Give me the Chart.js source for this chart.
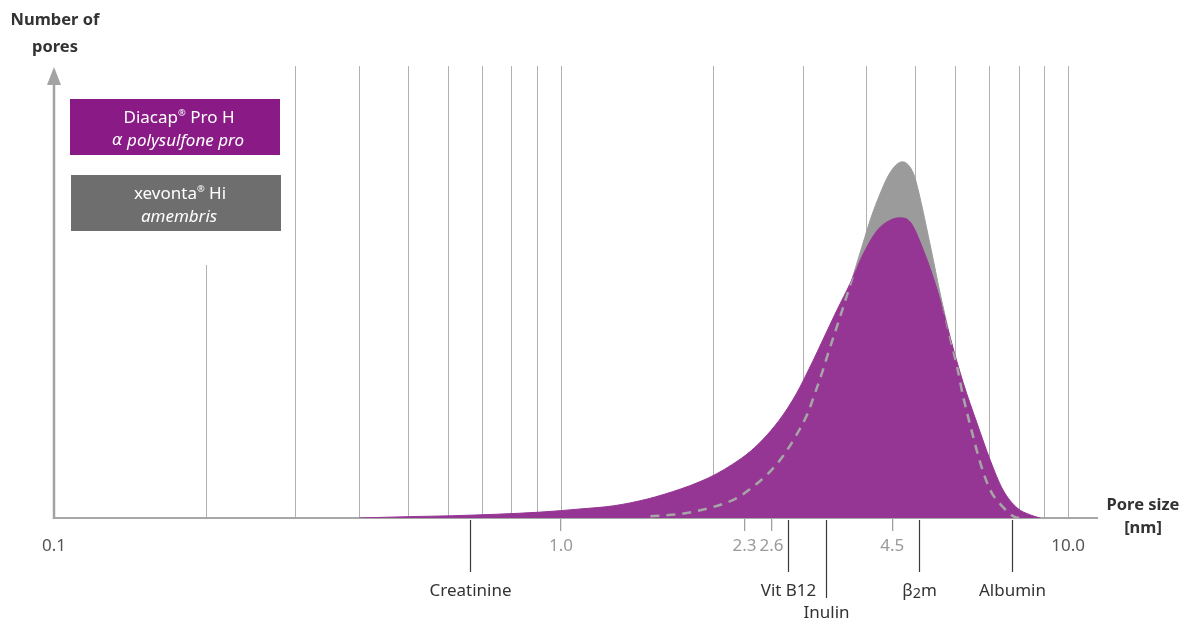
<!DOCTYPE html>
<html>
<head>
<meta charset="utf-8">
<script src="https://cdn.jsdelivr.net/npm/chart.js@4.4.0/dist/chart.umd.min.js"></script>
<style>
  html, body { margin: 0; padding: 0; background: #fff; }
  #wrap { width: 1194px; height: 622px; }
</style>
</head>
<body>
<div id="wrap"><canvas id="poreChart"></canvas></div>
<script>
// pore size [nm] and relative number of pores
const diacapSize = [0.40, 0.50, 0.61, 0.91, 1.09, 1.27, 1.48, 1.72, 1.88, 2.02, 2.18, 2.36, 2.55, 2.74, 2.87, 2.96, 3.04, 3.14, 3.27, 3.50, 3.72, 3.94, 4.20, 4.46, 4.66, 4.88, 5.18, 5.52, 5.85, 6.21, 6.61, 7.02, 7.44, 7.94, 8.41, 8.81];
const diacapCount = [0, 0.3, 0.5, 1.3, 2.0, 2.7, 4.2, 6.4, 8.05, 9.7, 11.9, 14.7, 18.4, 22.8, 26.3, 29.0, 31.6, 34.8, 39.0, 46.0, 52.0, 58.3, 63.6, 65.9, 66.4, 65.5, 59.3, 50.4, 40.0, 29.9, 21.0, 12.8, 6.2, 2.2, 0.7, 0];

const xevontaSize = [1.50, 1.72, 1.99, 2.22, 2.39, 2.58, 2.74, 2.92, 3.06, 3.17, 3.29, 3.36, 3.55, 3.68, 3.94, 4.07, 4.20, 4.46, 4.71, 4.95, 5.06, 5.37, 5.59, 5.85, 6.04, 6.21, 6.47, 6.71, 7.02, 7.44, 7.86, 8.12];
const xevontaCount = [0.4, 0.9, 2.4, 4.4, 6.9, 10.2, 13.7, 18.6, 23.0, 27.7, 33.0, 36.3, 44.5, 50.0, 60.8, 65.9, 70.1, 76.5, 78.8, 76.3, 72.6, 59.3, 49.8, 40.0, 33.4, 26.8, 18.8, 12.2, 6.2, 2.4, 0.2, 0];

const gridTicks = [0.2, 0.3, 0.4, 0.5, 0.6, 0.7, 0.8, 0.9, 1, 2, 3, 4, 5, 6, 7, 8, 9, 10];
const labelTicks = [0.1, 1, 2.3, 2.6, 4.5, 10];
const labelTickText = ['0.1', '1.0', '2.3', '2.6', '4.5', '10.0'];

const markerNames = ['Creatinine', 'Vit B12', 'Inulin', 'β2m', 'Albumin'];
const markerSizes = [0.66, 2.8, 3.33, 5.08, 7.75];

const seriesNames = ['Diacap® Pro H', 'xevonta® Hi'];
const seriesSubtitles = ['α polysulfone pro', 'amembris'];

const FONT = '"Noto Sans", sans-serif';
const GREEK_FONT = '"DejaVu Sans", sans-serif';
const PURPLE = '#963694';
const GREY = '#9b9b9b';

function toPoints(xs, ys) {
    return xs.map((x, i) => ({ x: x, y: ys[i] }));
}

// text with a small raised ®, a lowered 2 in β2m and a clearer alpha
function drawRich(ctx, text, cx, cy, size, style, color) {
    const parts = [];
    for (let i = 0; i < text.length; i++) {
        const ch = text[i];
        if (ch === '®') {
            parts.push({ t: ch, s: size * 0.55, dy: -size * 0.3, f: FONT });
        } else if (ch === '2' && text[i - 1] === 'β') {
            parts.push({ t: ch, s: size * 0.85, dy: size * 0.18, f: FONT });
        } else if (ch === 'α') {
            parts.push({ t: ch, s: size * 0.95, dy: 0, f: GREEK_FONT });
        } else {
            const last = parts[parts.length - 1];
            if (last && last.s === size && last.dy === 0 && last.f === FONT) last.t += ch;
            else parts.push({ t: ch, s: size, dy: 0, f: FONT });
        }
    }
    let total = 0;
    parts.forEach(p => {
        ctx.font = `${style} ${p.s}px ${p.f}`;
        p.w = ctx.measureText(p.t).width;
        total += p.w;
    });
    let x = cx - total / 2;
    ctx.fillStyle = color;
    ctx.textAlign = 'left';
    ctx.textBaseline = 'middle';
    parts.forEach(p => {
        ctx.font = `${style} ${p.s}px ${p.f}`;
        ctx.fillText(p.t, x, cy + p.dy);
        x += p.w;
    });
}

const legendBox = { dx: 16, top: 99, w: 210, h: 56, gap: 20 };
const legendColors = ['#8a1b86', '#6e6e6e'];

const decorPlugin = {
    id: 'poreDecor',
    beforeDatasetsDraw(chart) {
        // the legend sits on a white patch that hides the upper grid lines
        const { ctx, chartArea: a } = chart;
        const x0 = a.left + legendBox.dx;
        const bottom = legendBox.top + 2 * legendBox.h + legendBox.gap + 34;
        ctx.save();
        ctx.fillStyle = '#fff';
        ctx.fillRect(a.left + 3, a.top, x0 + legendBox.w + 10 - (a.left + 3), bottom - a.top);
        ctx.restore();
    },
    beforeDatasetDraw(chart, args) {
        // dashed xevonta outline only shows where it runs inside the purple area
        if (args.index !== 2) return;
        const { ctx, chartArea: a } = chart;
        const meta = chart.getDatasetMeta(1);
        const pts = meta.data;
        ctx.save();
        ctx.beginPath();
        meta.dataset.path(ctx);
        ctx.lineTo(pts[pts.length - 1].x, a.bottom);
        ctx.lineTo(pts[0].x, a.bottom);
        ctx.closePath();
        ctx.clip();
    },
    afterDatasetDraw(chart, args) {
        if (args.index === 2) chart.ctx.restore();
    },
    afterDraw(chart) {
        const { ctx, chartArea: a, scales } = chart;
        const xs = scales.x;
        const xl = scales.xl;
        ctx.save();

        // y axis with arrow
        ctx.strokeStyle = '#a3a3a3';
        ctx.fillStyle = '#a3a3a3';
        ctx.lineWidth = 2.5;
        ctx.beginPath();
        ctx.moveTo(a.left, a.bottom + 1);
        ctx.lineTo(a.left, a.top + 18);
        ctx.stroke();
        ctx.beginPath();
        ctx.moveTo(a.left, a.top + 1);
        ctx.lineTo(a.left - 7, a.top + 19);
        ctx.lineTo(a.left + 7, a.top + 19);
        ctx.closePath();
        ctx.fill();

        // axis titles
        drawRich(ctx, 'Number of', a.left + 1, 20, 16.5, 'bold', '#333');
        drawRich(ctx, 'pores', a.left + 1, 47, 16.5, 'bold', '#333');
        drawRich(ctx, 'Pore size', a.right + 46, a.bottom - 13, 16.5, 'bold', '#333');
        drawRich(ctx, '[nm]', a.right + 46, a.bottom + 10, 16.5, 'bold', '#333');

        // legend boxes
        seriesNames.forEach((name, i) => {
            const x = a.left + legendBox.dx + i;
            const y = legendBox.top + i * (legendBox.h + legendBox.gap);
            ctx.fillStyle = legendColors[i];
            ctx.fillRect(x, y, legendBox.w, legendBox.h);
            drawRich(ctx, name, x + 109, y + 19, 17, 'normal', '#fff');
            drawRich(ctx, seriesSubtitles[i], x + 108, y + 42, 17, 'italic', '#fff');
        });

        // substance markers below the axis
        ctx.font = `17px ${FONT}`;
        const labelBoxes = labelTickText.map((t, i) => {
            const w = ctx.measureText(t).width;
            const x = xl.getPixelForTick(i);
            return [x - w / 2 - 3, x + w / 2 + 3];
        });
        markerNames.forEach((name, i) => {
            const x = Math.round(xs.getPixelForValue(markerSizes[i])) + 0.5;
            const low = name === 'Inulin';
            const y0 = a.bottom + 2;
            const y1 = a.bottom + (low ? 80 : 54);
            const hit = labelBoxes.some(([l, r]) => x > l && x < r);
            ctx.strokeStyle = '#3a3a3a';
            ctx.lineWidth = 1.2;
            ctx.beginPath();
            if (hit) {
                ctx.moveTo(x, y0);
                ctx.lineTo(x, a.bottom + 16);
                ctx.moveTo(x, a.bottom + 37);
                ctx.lineTo(x, y1);
            } else {
                ctx.moveTo(x, y0);
                ctx.lineTo(x, y1);
            }
            ctx.stroke();
            drawRich(ctx, name, x, a.bottom + (low ? 95 : 73), 17, 'normal', '#333');
        });

        ctx.restore();
    }
};

const isEdgeTick = (c) => c.tick && (c.tick.value === 0.1 || c.tick.value === 10);

const ctx = document.getElementById('poreChart').getContext('2d');
new Chart(ctx, {
    type: 'line',
    data: {
        datasets: [{
            label: seriesNames[1],
            data: toPoints(xevontaSize, xevontaCount),
            backgroundColor: GREY,
            borderColor: GREY,
            borderWidth: 1,
            fill: 'origin',
            order: 3
        }, {
            label: seriesNames[0],
            data: toPoints(diacapSize, diacapCount),
            backgroundColor: PURPLE,
            borderColor: PURPLE,
            borderWidth: 1,
            fill: 'origin',
            order: 2
        }, {
            label: seriesNames[1] + ' outline',
            data: toPoints(xevontaSize, xevontaCount),
            borderColor: '#a6a6a6',
            borderWidth: 2.5,
            borderDash: [9, 7],
            fill: false,
            order: 1
        }]
    },
    options: {
        responsive: true,
        maintainAspectRatio: false,
        animation: false,
        events: [],
        layout: { padding: { left: 54, right: 97, top: 66, bottom: 0 } },
        elements: {
            point: { radius: 0 },
            line: { cubicInterpolationMode: 'monotone' }
        },
        plugins: {
            legend: { display: false },
            tooltip: { enabled: false }
        },
        scales: {
            x: {
                type: 'logarithmic',
                position: 'bottom',
                min: 0.1,
                max: 11.4,
                weight: 0,
                afterBuildTicks: (s) => { s.ticks = gridTicks.map(v => ({ value: v })); },
                afterFit: (s) => { s.height = 0; },
                ticks: { display: false },
                grid: { color: '#b0b0b0', lineWidth: 1, drawTicks: false },
                border: { display: true, color: '#a8a8a8', width: 2 }
            },
            xl: {
                type: 'logarithmic',
                position: 'bottom',
                axis: 'x',
                min: 0.1,
                max: 11.4,
                weight: 1,
                afterBuildTicks: (s) => { s.ticks = labelTicks.map(v => ({ value: v })); },
                afterFit: (s) => { s.height = 104; },
                ticks: {
                    autoSkip: false,
                    maxRotation: 0,
                    padding: 5,
                    font: { family: FONT, size: 17 },
                    color: (c) => isEdgeTick(c) ? '#555' : '#9a9a9a',
                    callback: (v, i) => labelTickText[i]
                },
                grid: {
                    drawOnChartArea: false,
                    drawTicks: true,
                    tickLength: 13,
                    lineWidth: 1.3,
                    color: (c) => isEdgeTick(c) ? 'rgba(0,0,0,0)' : '#a0a0a0'
                },
                border: { display: false }
            },
            y: { display: false, min: 0, max: 100 }
        }
    },
    plugins: [decorPlugin]
});
</script>
</body>
</html>
